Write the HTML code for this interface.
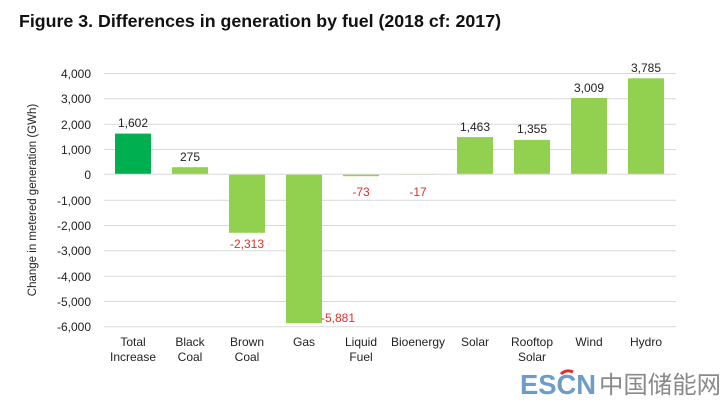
<!DOCTYPE html>
<html><head><meta charset="utf-8"><style>
body{margin:0;background:#fff;width:728px;height:401px;overflow:hidden;font-family:"Liberation Sans",Arial,sans-serif}
</style></head><body>
<svg width="728" height="401" xmlns="http://www.w3.org/2000/svg" font-family="Liberation Sans, Arial, sans-serif">
<text x="19" y="27" font-size="17.5" font-weight="bold" fill="#111" textLength="482" lengthAdjust="spacingAndGlyphs">Figure 3.  Differences in generation by fuel (2018 cf: 2017)</text>
<g stroke="#d9d9d9" stroke-width="1">
<line x1="104" x2="676" y1="73.5" y2="73.5"/><line x1="104" x2="676" y1="98.8" y2="98.8"/>
<line x1="104" x2="676" y1="124.2" y2="124.2"/><line x1="104" x2="676" y1="149.5" y2="149.5"/>
<line x1="104" x2="676" y1="200.2" y2="200.2"/><line x1="104" x2="676" y1="225.5" y2="225.5"/>
<line x1="104" x2="676" y1="250.8" y2="250.8"/><line x1="104" x2="676" y1="276.2" y2="276.2"/>
<line x1="104" x2="676" y1="301.5" y2="301.5"/><line x1="104" x2="676" y1="326.8" y2="326.8"/>
</g>
<g font-size="12" fill="#222" text-anchor="end">
<text x="91" y="78">4,000</text><text x="91" y="103">3,000</text><text x="91" y="129">2,000</text>
<text x="91" y="154">1,000</text><text x="91" y="179">0</text><text x="91" y="205">-1,000</text>
<text x="91" y="230">-2,000</text><text x="91" y="255">-3,000</text><text x="91" y="281">-4,000</text>
<text x="91" y="306">-5,000</text><text x="91" y="331">-6,000</text>
</g>
<text transform="translate(36,200) rotate(-90)" font-size="11.5" fill="#222" text-anchor="middle">Change in metered generation (GWh)</text>
<g fill="#92d050">
<rect x="115" y="133.6" width="36" height="40.6" fill="#00b050"/>
<rect x="172" y="167.2" width="36" height="7"/>
<rect x="229" y="174.2" width="36" height="58.6"/>
<rect x="286" y="174.2" width="36" height="149"/>
<rect x="343" y="174.2" width="36" height="2"/>
<rect x="400" y="174.2" width="36" height="0.5"/>
<rect x="457" y="137.1" width="36" height="37.1"/>
<rect x="514" y="139.9" width="36" height="34.3"/>
<rect x="571" y="98" width="36" height="76.2"/>
<rect x="628" y="78.3" width="36" height="95.9"/>
</g>
<line x1="104" x2="676" y1="174.2" y2="174.2" stroke="#d9d9d9"/>
<g font-size="12" fill="#222" text-anchor="middle">
<text x="133" y="127">1,602</text><text x="190" y="161">275</text>
<text x="475" y="131">1,463</text><text x="532" y="133">1,355</text>
<text x="589" y="92">3,009</text><text x="646" y="72">3,785</text>
</g>
<g font-size="12" fill="#e0302a" text-anchor="middle">
<text x="247" y="248">-2,313</text><text x="338" y="322">-5,881</text>
<text x="361" y="196">-73</text><text x="418" y="196">-17</text>
</g>
<g font-size="12" fill="#222" text-anchor="middle">
<text x="133" y="346">Total</text><text x="133" y="361">Increase</text>
<text x="190" y="346">Black</text><text x="190" y="361">Coal</text>
<text x="247" y="346">Brown</text><text x="247" y="361">Coal</text>
<text x="304" y="346">Gas</text>
<text x="361" y="346">Liquid</text><text x="361" y="361">Fuel</text>
<text x="418" y="346">Bioenergy</text>
<text x="475" y="346">Solar</text>
<text x="532" y="346">Rooftop</text><text x="532" y="361">Solar</text>
<text x="589" y="346">Wind</text><text x="646" y="346">Hydro</text>
</g>
<text x="520" y="394" font-size="28" font-weight="bold" fill="#6d9cc8" textLength="76" lengthAdjust="spacingAndGlyphs">ESCN</text>
<path d="M561 374 a10 10 0 0 1 12 -2" stroke="#e0302a" stroke-width="3" fill="none"/>
<text x="599" y="393" font-size="24" fill="#8a8a8a" font-family="Liberation Sans, Noto Sans CJK SC, sans-serif" textLength="122" lengthAdjust="spacingAndGlyphs">中国储能网</text>
</svg>
</body></html>
